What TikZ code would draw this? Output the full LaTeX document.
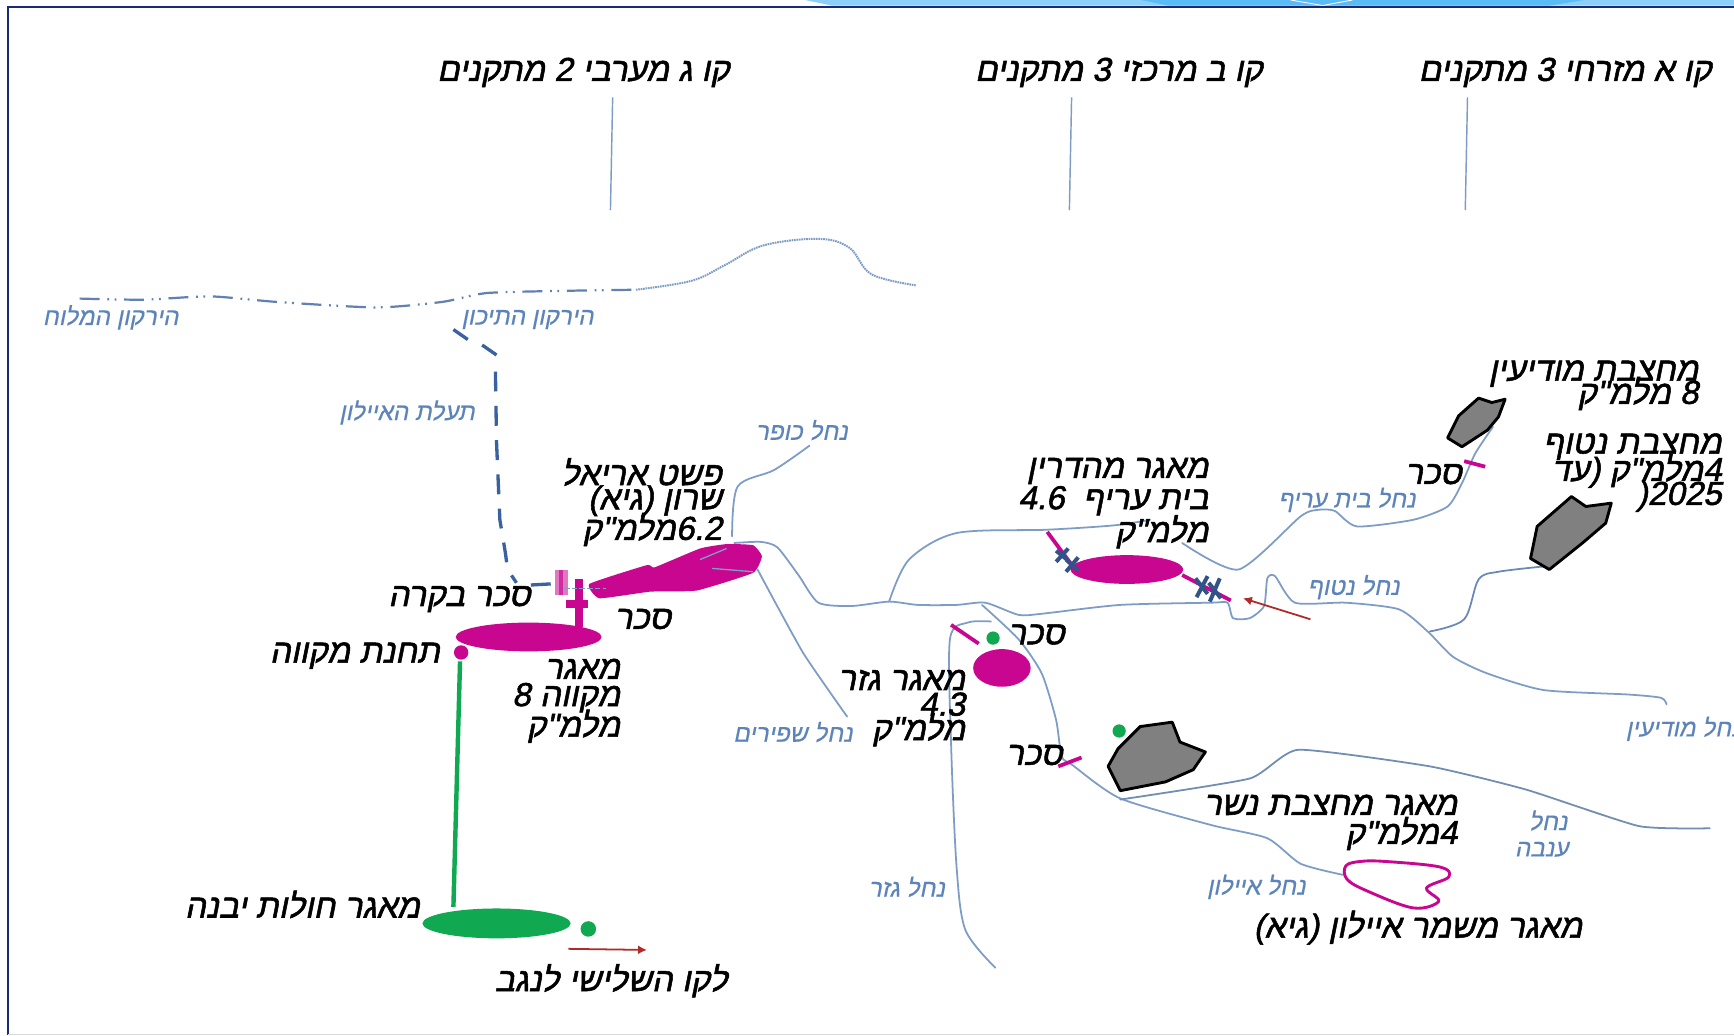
\documentclass[tikz,border=0pt]{standalone}
\usepackage{fontspec}
\TeXXeTstate=1
\newfontfamily\hebb[Script=Hebrew,FakeSlant=0.2,FakeBold=1.6]{Liberation Sans}
\newfontfamily\hebl[Script=Hebrew,FakeSlant=0.2,FakeBold=0.4]{Liberation Sans}
\usetikzlibrary{arrows.meta}
\definecolor{navyfr}{HTML}{1A2A78}
\definecolor{riverc}{HTML}{7E9DC6}
\definecolor{labc}{HTML}{5C84BA}
\definecolor{canalc}{HTML}{3A62A0}
\definecolor{mag}{HTML}{C8068F}
\definecolor{grn}{HTML}{10A850}
\definecolor{rock}{HTML}{808080}
\definecolor{redarr}{HTML}{B02A2A}
\definecolor{stripa}{HTML}{8CCFF7}
\definecolor{stripb}{HTML}{5BBBF5}
\tikzset{
 blk/.style={anchor=east,inner sep=0pt,yshift=-0.8pt,text=black,font=\hebb\fontsize{30}{30}\selectfont},
 blu/.style={inner sep=0pt,yshift=-1pt,text=labc,font=\hebl\fontsize{22}{22}\selectfont},
 hdr/.style={anchor=east,inner sep=0pt,yshift=-2.5pt,text=black,font=\hebb\fontsize{30}{30}\selectfont},
 riv/.style={draw=riverc,line width=1.6pt,line join=round,line cap=round},
 gate/.style={draw=mag,line width=3.4pt},
 rockp/.style={draw=black,line width=2.6pt,fill=rock,line join=round},
 topl/.style={draw=riverc,line width=1.3pt},
 sym/.style={draw=canalc!85!black,line width=3.6pt},
 redline/.style={draw=redarr,line width=1.6pt,-{Latex[length=8pt,width=8pt]}},
}
\newcommand{\hb}[1]{\beginR #1\endR}
\begin{document}
\begin{tikzpicture}[x=1pt,y=-1pt]
\clip (0,0) rectangle (1568,936);
\fill[white] (0,0) rectangle (1568,936);
% top strip
\fill[stripa] (728,0) -- (752,5) -- (1568,5) -- (1568,0) -- cycle;
\fill[stripb] (1032,0) -- (1056,5) -- (1402,5) -- (1432,0) -- cycle;
\draw[white,line width=0.8pt] (1167,0) -- (1196,5) -- (1223,0);
% frame
\draw[navyfr,line width=1.6pt] (7,936) -- (7,6) -- (1568,6);
\draw[black!15,line width=1pt] (7,935.5) -- (1568,935.5);
% tall lines under headers
\draw[topl] (554,88) -- (552,190);
\draw[topl] (969,88) -- (967,190);
\draw[topl] (1327,88) -- (1325,190);
% Yarkon
\draw[canalc!80,line width=2pt,dash pattern=on 18pt off 7pt on 1.6pt off 5pt on 1.6pt off 7pt]
  plot[smooth,tension=0.4] coordinates {(72,270) (130,271) (190,268) (250,273) (340,278) (400,273) (440,265) (510,263) (575,262)};
\draw[riverc,line width=1.8pt,dash pattern=on 1.5pt off 0.7pt]
  plot[smooth,tension=0.6] coordinates {(575,262) (625,254) (655,240) (690,222) (740,216) (768,224) (788,248) (828,258)};
% canal
\draw[canalc,line width=3pt]
  (410,298) -- (423,307) (436,312) -- (449,321);
\draw[canalc,line width=3pt,dash pattern=on 18pt off 13pt]
  (448,336) -- (449,400) -- (452,470) -- (457,500) -- (459,515) -- (467,527);
\draw[canalc,line width=3pt] (480,529) -- (498,528);
% rivers
\draw[riv] plot[smooth,tension=0.5] coordinates {(732,403) (700,425) (667,440) (662,485)};
\draw[riv] plot[smooth,tension=0.4] coordinates {(664,491) (688,490) (703,495) (722,520) (740,545) (770,548) (804,544) (830,547) (865,547) (891,545) (921,556) (942,555) (1013,547) (1095,545) (1110,545) (1115,559) (1130,559) (1143,548) (1146,523) (1153,521) (1171,545) (1217,545) (1265,551) (1291,571) (1314,594) (1345,609) (1396,624) (1472,628) (1502,631) (1507,637)};
\draw[riv] plot[smooth,tension=0.5] coordinates {(804,544) (822,506) (865,482) (947,479) (1008,475) (1040,470)};
\draw[riv] plot[smooth,tension=0.4] coordinates {(1069,491) (1120,515) (1176,467) (1192,461) (1207,462) (1227,476) (1278,470) (1309,458) (1322,437) (1334,410) (1350,386)};
\draw[riv,draw=canalc!75] plot[smooth,tension=0.5] coordinates {(1293,571) (1324,560) (1337,524) (1355,517) (1398,512)};
\draw[riv] plot[smooth,tension=0.3] coordinates {(685,515) (726,590) (766,648)};
\draw[riv] plot[smooth,tension=0.4] coordinates {(888,547) (921,578) (942,609) (955,651) (960,684) (970,692) (1013,722) (1095,746) (1146,758) (1176,781) (1214,791)};
\draw[riv,draw=riverc!90!black] plot[smooth,tension=0.3] coordinates {(1013,723) (1130,704) (1174,678) (1293,693) (1380,714) (1482,747) (1546,749)};
\draw[riv] plot[smooth,tension=0.5] coordinates {(896,562) (875,563) (859,578) (860,672) (865,784) (873,841) (900,875)};
% pools
\fill[mag] plot[smooth cycle,tension=0.25] coordinates {(533,528) (585,511) (592,513) (633,496) (657,492) (681,493) (689,503) (681,518) (630,534) (588,535) (542,541)};
\draw[riverc,line width=1.2pt] (633,506) -- (657,496) (644,514) -- (681,517);
\fill[mag] (478,576) ellipse [x radius=66,y radius=13];
\fill[mag] (417,590) circle [radius=6.5];
\draw[grn,line width=4pt] (416,598) -- (410,820);
\fill[grn] (449,835) ellipse [x radius=67,y radius=13.5];
\fill[grn] (532,840) circle [radius=7];
\fill[mag] (1019,515) ellipse [x radius=51,y radius=13];
\fill[mag] (906,604) ellipse [x radius=26,y radius=17];
\fill[grn] (898,577) circle [radius=6];
\fill[grn] (1012,661) circle [radius=6];
% Bakara gates
\fill[mag!55] (502,515) rectangle (514,538);
\fill[mag!85] (505.5,515) rectangle (509,538);
\fill[mag] (520,524) rectangle (527,567);
\fill[mag] (512,543) rectangle (532,550);
\draw[riverc,line width=1.2pt,dash pattern=on 5pt off 2pt] (510,532) -- (548,532);
% other gates
\draw[gate] (1324,417) -- (1343,422);
\draw[gate] (860,565) -- (885,582);
\draw[gate] (957,693) -- (978,685);
\draw[gate] (947,481) -- (970,512);
\draw[gate] (1069,520) -- (1113,543);
% pumps
\draw[sym] (955,498) -- (966,507) (966,496) -- (955,508) (964,506) -- (975,516) (975,504) -- (964,517);
\draw[sym] (1081,523) -- (1092,537) (1092,521) -- (1082,540) (1093,527) -- (1104,541) (1103,523) -- (1094,544);
% rock polygons
\draw[rockp] (1337,360) -- (1349,364) -- (1361,361) -- (1355,377) -- (1345,389) -- (1322,404) -- (1309,396) -- (1319,376) -- cycle;
\draw[rockp] (1421,449) -- (1434,458) -- (1457,455) -- (1452,473) -- (1431,491) -- (1401,515) -- (1384,505) -- (1390,476) -- cycle;
\draw[rockp] (1031,657) -- (1060,653) -- (1067,671) -- (1090,680) -- (1079,696) -- (1054,707) -- (1013,715) -- (1002,693) -- (1011,677) -- cycle;
% Ayalon outline
\draw[mag,line width=2.6pt] plot[smooth cycle,tension=0.6] coordinates {(1217,783) (1230,779) (1253,779) (1302,784) (1310,793) (1290,803) (1301,815) (1278,821) (1237,806) (1218,795)};
% red arrows
\draw[redline] (1185,560) -- (1124,541);
\draw[redline] (514,858) -- (585,859);
% headers
\node[hdr] (h1) at (1548,63) {\hb{קו א מזרחי 3 מתקנים}};
\node[hdr] (h2) at (1142,63) {\hb{קו ב מרכזי 3 מתקנים}};
\node[hdr] (h3) at (660,63) {\hb{קו ג מערבי 2 מתקנים}};
% black labels
\node[blk] (a1) at (653,426) {\hb{פשט אריאל}};
\node[blk] (a2) at (653,452) {\hb{שרון (גיא)}};
\node[blk] (a3) at (653,478) {\hb{\beginL 6.2\endL מלמ"ק}};
\node[blk] (b1) at (480,541) {\hb{סכר בקרה}};
\node[blk] (b2) at (607,559) {\hb{סכר}};
\node[blk] (b3) at (398,592) {\hb{תחנת מקווה}};
\node[blk] (c1) at (561,604) {\hb{מאגר}};
\node[blk] (c2) at (561,630) {\hb{מקווה 8}};
\node[blk] (c3) at (561,656) {\hb{מלמ"ק}};
\node[blk] (d1) at (873,614) {\hb{מאגר גזר}};
\node[blk] (d2) at (873,636) {\hb{\beginL 4.3\endL}};
\node[blk] (d3) at (873,659) {\hb{מלמ"ק}};
\node[blk] (e1) at (963,573) {\hb{סכר}};
\node[blk] (e2) at (961,682) {\hb{סכר}};
\node[blk] (e3) at (1322,428) {\hb{סכר}};
\node[blk] (f1) at (1093,425) {\hb{מאגר מהדרין}};
\node[blk] (f2) at (1093,452) {\hb{בית עריף\ \ \beginL 4.6\endL}};
\node[blk] (f3) at (1093,480) {\hb{מלמ"ק}};
\node[blk] (g1) at (1536,337) {\hb{מחצבת מודיעין}};
\node[blk] (g2) at (1536,355) {\hb{8 מלמ"ק}};
\node[blk] (i1) at (1557,403) {\hb{מחצבת נטוף}};
\node[blk] (i2) at (1557,425) {\hb{4מלמ"ק (עד}};
\node[blk] (i3) at (1557,448) {\mbox{(}\mbox{2025}};
\node[blk] (j1) at (1318,727) {\hb{מאגר מחצבת נשר}};
\node[blk] (j2) at (1318,753) {\hb{4מלמ"ק}};
\node[blk] (k1) at (1431,838) {\hb{מאגר משמר איילון (גיא)}};
\node[blk] (k2) at (380,817) {\hb{מאגר חולות יבנה}};
\node[blk] (k3) at (658,886) {\hb{לקו השלישי לנגב}};
% blue labels
\node[blu] (l1) at (100,286) {\hb{הירקון המלוח}};
\node[blu] (l2) at (477,288) {\hb{הירקון התיכון}};
\node[blu] (l3) at (368,372) {\hb{תעלת האיילון}};
\node[blu] (l4) at (725,388) {\hb{נחל כופר}};
\node[blu] (l5) at (717,661) {\hb{נחל שפירים}};
\node[blu] (l6) at (820,801) {\hb{נחל גזר}};
\node[blu] (l7) at (1136,801) {\hb{נחל איילון}};
\node[blu] (l8) at (1400,741) {\hb{נחל}};
\node[blu] (l9) at (1394,767) {\hb{ענבה}};
\node[blu,anchor=west] (l10) at (1470,658) {\hb{נחל מודיעין}};
\node[blu] (l11) at (1224,530) {\hb{נחל נטוף}};
\node[blu] (l12) at (1218,451) {\hb{נחל בית עריף}};
\end{tikzpicture}
\end{document}
